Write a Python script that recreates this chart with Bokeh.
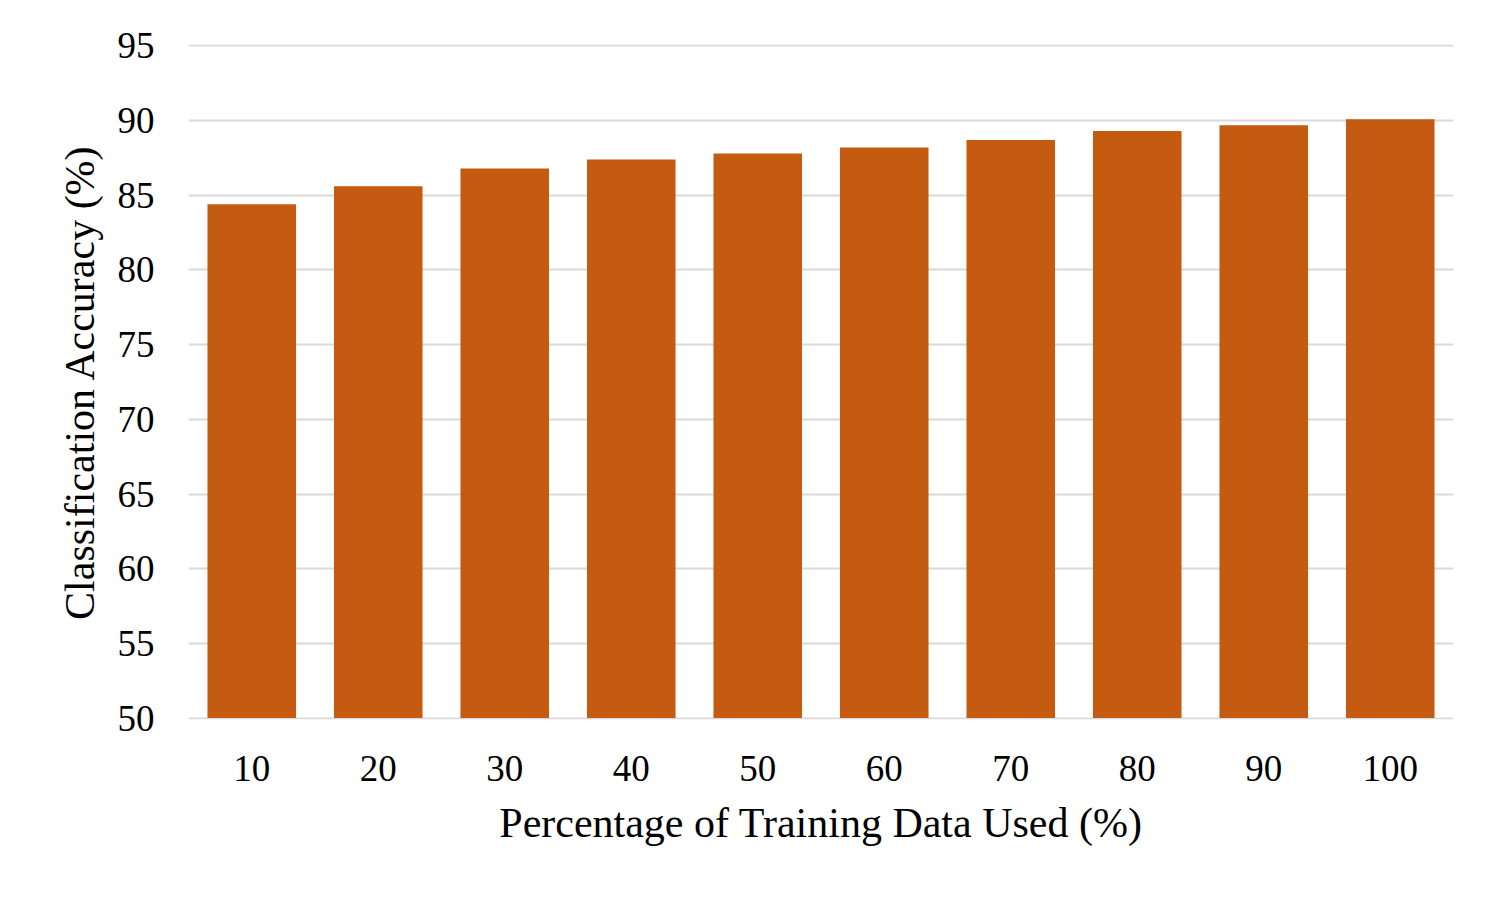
from bokeh.plotting import figure
from bokeh.models import FactorRange, Range1d, FixedTicker
from bokeh.embed import file_html
from bokeh.resources import INLINE

categories = ["10", "20", "30", "40", "50", "60", "70", "80", "90", "100"]
accuracy = [84.4, 85.6, 86.8, 87.4, 87.8, 88.2, 88.7, 89.3, 89.7, 90.1]
y_ticks = [50, 55, 60, 65, 70, 75, 80, 85, 90, 95]

FONT = "Liberation Serif"

p = figure(
    x_range=FactorRange(*categories, range_padding=0),
    y_range=Range1d(49.9, 95.1),
    width=1492, height=890,
    output_backend="svg", toolbar_location=None,
    min_border_left=188, min_border_right=39,
    min_border_top=44, min_border_bottom=171,
)

p.vbar(x=categories, top=accuracy, bottom=50, width=0.7,
       fill_color="#C55A11", line_color=None)

p.outline_line_color = None
p.xgrid.grid_line_color = None
p.ygrid.grid_line_color = "#d9d9d9"
p.ygrid.grid_line_width = 2
p.yaxis.ticker = FixedTicker(ticks=y_ticks)

for ax in (p.xaxis[0], p.yaxis[0]):
    ax.axis_line_color = None
    ax.major_tick_line_color = None
    ax.minor_tick_line_color = None
    ax.major_label_text_font = FONT
    ax.major_label_text_font_size = "37px"
    ax.major_label_text_color = "#000000"
    ax.axis_label_text_font = FONT
    ax.axis_label_text_font_size = "42px"
    ax.axis_label_text_font_style = "normal"
    ax.axis_label_text_color = "#000000"

p.xaxis.axis_label = "Percentage of Training Data Used (%)"
p.yaxis.axis_label = "Classification Accuracy (%)"
p.yaxis.major_label_standoff = 28
p.xaxis.major_label_standoff = 30
p.xaxis.axis_label_standoff = 16
p.yaxis.axis_label_standoff = 12

open("out.html", "w").write(file_html(p, INLINE))
